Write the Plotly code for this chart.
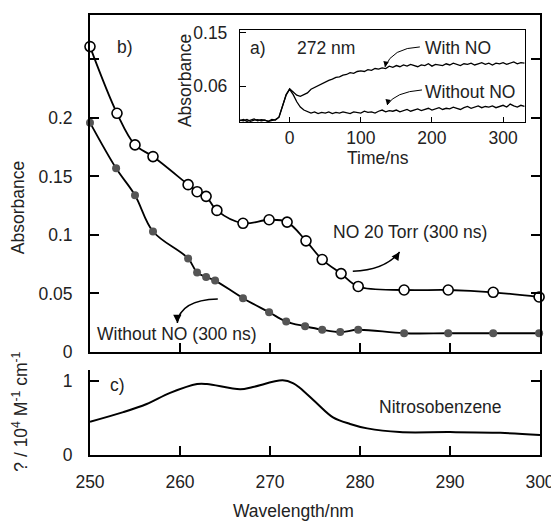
import plotly.graph_objects as go

# ---- Panel b: transient absorption spectra (300 ns) ----
wl_no = [250, 253, 255, 257, 260.9, 261.9, 262.9, 264.1, 267, 269.9, 271.9, 274, 275.8, 277.9, 279.8, 284.9, 289.8, 294.8, 299.9]
abs_no = [0.261, 0.204, 0.177, 0.167, 0.143, 0.137, 0.133, 0.121, 0.110, 0.113, 0.111, 0.095, 0.079, 0.067, 0.056, 0.053, 0.053, 0.051, 0.047]
wl_wo = [250, 252.9, 255, 257, 260.9, 261.9, 262.9, 263.9, 267, 269.9, 271.8, 273.9, 275.8, 277.8, 279.8, 284.9, 289.8, 294.8, 299.9]
abs_wo = [0.196, 0.157, 0.134, 0.103, 0.080, 0.068, 0.064, 0.061, 0.046, 0.034, 0.026, 0.022, 0.019, 0.017, 0.019, 0.016, 0.016, 0.016, 0.016]
b_yticks = [0, 0.05, 0.1, 0.15, 0.2, 0.25]
b_yticktext = ["0", "0.05", "0.1", "0.15", "0.2", ""]

# ---- Panel c: nitrosobenzene spectrum ----
wl_nb = [250, 253.7, 256.3, 258.9, 261.9, 263, 266.7, 268.1, 271.4, 272.6, 273.3, 275.2, 277, 278.9, 280.8, 284.4, 290, 295.6, 300]
eps_nb = [0.45, 0.58, 0.69, 0.84, 0.96, 0.96, 0.89, 0.92, 1.01, 0.97, 0.91, 0.70, 0.51, 0.42, 0.36, 0.31, 0.31, 0.30, 0.27]
wl_ticks = [250, 260, 270, 280, 290, 300]

# ---- Panel a (inset): kinetic traces at 272 nm ----
t_ns = list(range(-70, 335, 5))
a_with = [0.002, 0.004, 0.001, 0.003, 0.005, 0.002, 0.004, 0.003, 0.001, 0.004, 0.003,
          0.008, 0.025, 0.045, 0.056,
          0.050, 0.045, 0.043, 0.046, 0.049, 0.055, 0.058, 0.062, 0.064, 0.068,
          0.070, 0.072, 0.075, 0.076, 0.079, 0.080, 0.083, 0.082, 0.085, 0.086,
          0.085, 0.088, 0.087, 0.090, 0.089, 0.091, 0.090, 0.094, 0.092, 0.095,
          0.093, 0.096, 0.094, 0.097, 0.095, 0.093, 0.096, 0.095, 0.098, 0.094,
          0.097, 0.096, 0.095, 0.098, 0.096, 0.099, 0.097, 0.095, 0.098, 0.097,
          0.099, 0.096, 0.098, 0.100, 0.097, 0.099, 0.096, 0.099, 0.098, 0.100,
          0.097, 0.099, 0.101, 0.098, 0.100, 0.099]
a_without = [0.003, 0.002, 0.004, 0.001, 0.003, 0.004, 0.002, 0.003, 0.001, 0.003, 0.004,
             0.008, 0.026, 0.046, 0.055,
             0.046, 0.034, 0.025, 0.020, 0.017, 0.015, 0.017, 0.014, 0.016, 0.015,
             0.017, 0.014, 0.016, 0.015, 0.017, 0.016, 0.014, 0.017, 0.016, 0.015,
             0.018, 0.016, 0.017, 0.015, 0.018, 0.020, 0.017, 0.019, 0.018, 0.020,
             0.017, 0.019, 0.021, 0.018, 0.020, 0.022, 0.019, 0.021, 0.023, 0.020,
             0.022, 0.024, 0.021, 0.023, 0.022, 0.025, 0.023, 0.021, 0.024, 0.026,
             0.023, 0.025, 0.027, 0.024, 0.026, 0.025, 0.027, 0.024, 0.026, 0.028,
             0.025, 0.030, 0.027, 0.025, 0.028, 0.026]
inset_xticks = [0, 100, 200, 300]
inset_yticks = [0.06, 0.15]

FONT = "Liberation Sans, Arial, sans-serif"
FS = 17.5
fig = go.Figure()

fig.add_trace(go.Scatter(x=wl_no, y=abs_no, mode="lines+markers",
                         line=dict(color="black", width=1.8, shape="spline", smoothing=1.0),
                         marker=dict(symbol="circle", size=10, color="white", line=dict(color="black", width=1.6)),
                         cliponaxis=False, xaxis="x", yaxis="y", showlegend=False))
fig.add_trace(go.Scatter(x=wl_wo, y=abs_wo, mode="lines+markers",
                         line=dict(color="black", width=1.8, shape="spline", smoothing=1.0),
                         marker=dict(symbol="circle", size=8, color="#555555", line=dict(width=0)),
                         cliponaxis=False, xaxis="x", yaxis="y", showlegend=False))
fig.add_trace(go.Scatter(x=wl_nb, y=eps_nb, mode="lines",
                         line=dict(color="black", width=2, shape="spline", smoothing=1.0),
                         xaxis="x2", yaxis="y2", showlegend=False))
fig.add_trace(go.Scatter(x=t_ns, y=a_with, mode="lines", line=dict(color="black", width=1.3),
                         xaxis="x3", yaxis="y3", showlegend=False))
fig.add_trace(go.Scatter(x=t_ns, y=a_without, mode="lines", line=dict(color="black", width=1.3),
                         xaxis="x3", yaxis="y3", showlegend=False))

ax_common = dict(showgrid=False, zeroline=False, showline=True, linecolor="black",
                 ticks="inside", tickcolor="black", automargin=False,
                 tickfont=dict(size=FS, color="#222", family=FONT))

fig.update_layout(
    width=551, height=522,
    margin=dict(l=90, r=11, t=15, b=67, autoexpand=False),
    paper_bgcolor="white", plot_bgcolor="white",
    font=dict(family=FONT, size=FS, color="#222"),
    xaxis=dict(**ax_common, domain=[0, 1], anchor="y", range=[250, 300], linewidth=2,
               mirror=True, ticklen=9, tickwidth=2, tickvals=[260, 270, 280, 290], showticklabels=False),
    yaxis=dict(**ax_common, domain=[0.2341, 1], anchor="x", range=[0, 0.288], linewidth=2,
               mirror="ticks", ticklen=9, tickwidth=2, tickvals=b_yticks, ticktext=b_yticktext,
               ticklabelstandoff=12),
    xaxis2=dict(**ax_common, domain=[0, 1], anchor="y2", range=[250, 300], linewidth=2,
                ticklen=9, tickwidth=2, tickvals=wl_ticks, ticklabelstandoff=10,
                ticklabeloverflow="allow"),
    yaxis2=dict(**ax_common, domain=[0, 0.193], anchor="x2", range=[0, 1.149], linewidth=2,
                mirror="ticks", ticklen=9, tickwidth=2, tickvals=[0, 1], ticklabelstandoff=12),
    xaxis3=dict(**ax_common, domain=[0.333, 0.967], anchor="y3", range=[-70, 331], linewidth=1,
                mirror=True, ticklen=5, tickwidth=1, tickvals=inset_xticks),
    yaxis3=dict(**ax_common, domain=[0.757, 0.966], anchor="x3", range=[0, 0.155], linewidth=1,
                mirror=True, ticklen=6, tickwidth=1, tickvals=inset_yticks, ticklabelstandoff=8),
)

def txt(x, y, s, xref, yref, angle=0, xanchor="center"):
    fig.add_annotation(x=x, y=y, text=s, xref=xref, yref=yref, showarrow=False,
                       textangle=angle, xanchor=xanchor, yanchor="middle",
                       font=dict(size=FS, family=FONT, color="#222"))

# axis titles
txt(-0.16, 0.561, "Absorbance", "paper", "paper", -90)
txt(-0.156, 0.098, "? / 10<sup>4</sup> M<sup>-1</sup> cm<sup>-1</sup>", "paper", "paper", -90)
txt(0.453, -0.127, "Wavelength/nm", "paper", "paper")
txt(0.211, 0.852, "Absorbance", "paper", "paper", -90)
txt(0.64, 0.674, "Time/ns", "paper", "paper")

# panel labels and notes
txt(253.9, 0.261, "b)", "x", "y")
txt(285.6, 0.1026, "NO 20 Torr (300 ns)", "x", "y")
txt(259.7, 0.0154, "Without NO (300 ns)", "x", "y")
txt(253.1, 0.946, "c)", "x2", "y2")
txt(288.9, 0.649, "Nitrosobenzene", "x2", "y2")
txt(-45, 0.1247, "a)", "x3", "y3")
txt(51, 0.1247, "272 nm", "x3", "y3")
txt(188, 0.1247, "With NO", "x3", "y3", xanchor="left")
txt(188, 0.0505, "Without NO", "x3", "y3", xanchor="left")

# curved arrows
def curve(x0, y0, cx, cy, x1, y1, xref, yref, ax, ay, w=1.5):
    fig.add_shape(type="path", path=f"M {x0},{y0} Q {cx},{cy} {x1},{y1}",
                  xref=xref, yref=yref, line=dict(color="black", width=w))
    fig.add_annotation(x=x1, y=y1, xref=xref, yref=yref, text="", showarrow=True,
                       arrowhead=2, arrowsize=1.1, arrowwidth=w, arrowcolor="black", ax=ax, ay=ay)

curve(279.2, 0.069, 282.8, 0.070, 284.4, 0.0855, "x", "y", -4, 6)
curve(264.2, 0.0453, 260.0, 0.0444, 259.7, 0.0248, "x", "y", 0, -6)
curve(183, 0.1264, 144, 0.1247, 134, 0.0927, "x3", "y3", 1, -5, 1)
curve(186, 0.0539, 148, 0.0505, 137, 0.0286, "x3", "y3", 1, -5, 1)

fig.write_html("out.html")
